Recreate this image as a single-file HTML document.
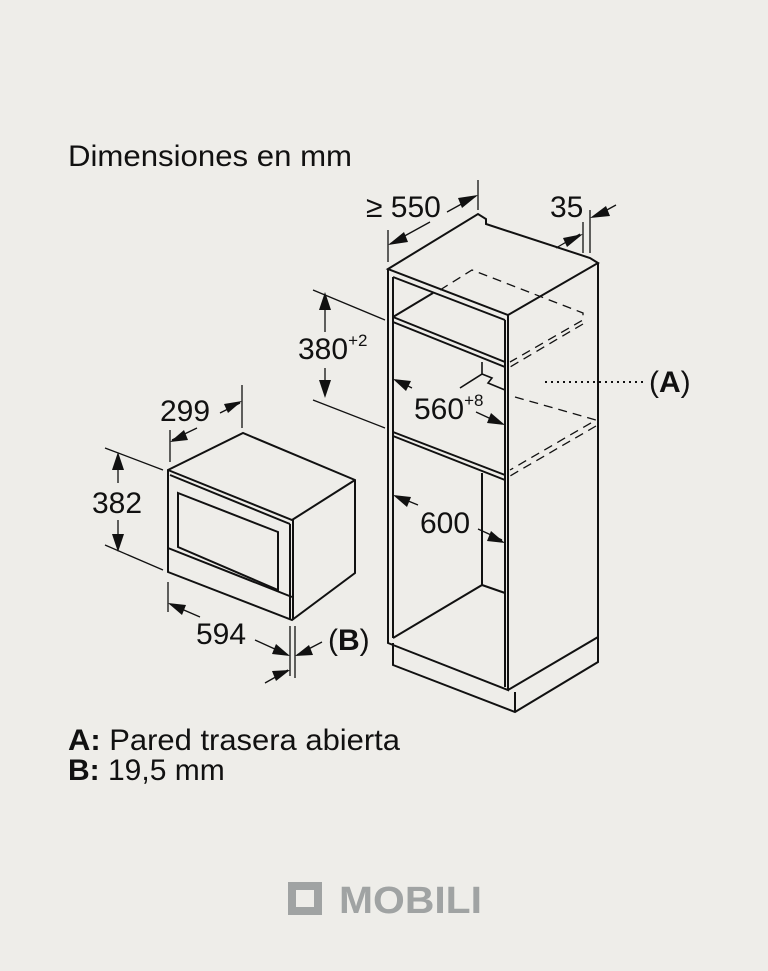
<!DOCTYPE html>
<html><head><meta charset="utf-8"><style>
html,body{margin:0;padding:0;background:#eeede9;}
svg{display:block}
text{font-family:"Liberation Sans",sans-serif;fill:#111}
</style></head><body>
<svg width="768" height="971" viewBox="0 0 768 971" xmlns="http://www.w3.org/2000/svg">
<rect width="768" height="971" fill="#eeede9"/>
<text x="68" y="166" font-size="30" textLength="284" lengthAdjust="spacingAndGlyphs">Dimensiones en mm</text>
<text x="68" y="750" font-size="30" textLength="332" lengthAdjust="spacingAndGlyphs"><tspan font-weight="bold">A:</tspan> Pared trasera abierta</text>
<text x="68" y="780" font-size="30"><tspan font-weight="bold">B:</tspan> 19,5 mm</text>

<g stroke="#111" stroke-width="2" fill="none" stroke-linejoin="miter">
<path d="M388,269 L478,214 L486,219 L486,224 L590,258 L598,263 L508,315 Z"/>
<path d="M388,269 L388,643 L508,690 L508,315"/>
<path d="M393,277 L505,320"/>
<path d="M393,277 L393,638 M505,320 L505,687"/>
<path d="M598,263 L598,637 L508,690"/>
<path d="M393,317 L505,362 M393,322 L505,367 M393,317 L433,293"/>
<path d="M393,432 L505,475 M393,436 L505,480"/>
<path d="M482,473 L482,585 L393,638 M482,585 L505,593"/>
<path d="M393,643 L393,665 L515,712 L598,662 L598,637 M515,712 L515,692"/>
<path d="M482,362 L482,374 L460,388 M482,374 L492,378 L488,383 L505,390" stroke-width="1.6"/>
</g>
<g stroke="#111" stroke-width="1.3" fill="none" stroke-dasharray="9,6">
<path d="M440,290 L472,270 L583,313 L583,320 L510,362"/>
<path d="M583,324 L510,367"/>
<path d="M515,397 L596,420 L510,470"/>
<path d="M596,426 L510,476"/>
</g>
<line x1="545" y1="382" x2="645" y2="382" stroke="#111" stroke-width="2" stroke-dasharray="2,4"/>
<text x="649" y="392" font-size="30">(<tspan font-weight="bold">A</tspan>)</text>

<g stroke="#111" stroke-width="2" fill="none">
<path d="M168,470 L243,433 L355,480 L355,573 L292,620 L168,572 Z"/>
<path d="M168,470 L292,520 L355,480"/>
<path d="M170,475 L290,524 M290,524 L290,620 M293,520 L293,620"/>
<path d="M178,493 L278,532 L278,590 L178,547 Z"/>
<path d="M168,548 L292,597"/>
</g>

<g stroke="#111" stroke-width="1.3" fill="none">
<path d="M388,230 L388,262 M478,180 L478,210 M390,244 L430,222 M447,212 L476,196"/>
<path d="M583,222 L583,253 M590,210 L590,253 M556,248 L580,234 M594,217 L616,205"/>
<path d="M313,290 L385,320 M313,400 L385,428 M325,300 L325,332 M325,368 L325,395"/>
<path d="M396,380 L412,388 M476,412 L502,424"/>
<path d="M396,496 L418,505 M478,529 L502,540"/>
<path d="M170,430 L170,462 M242,385 L242,428 M172,440 L197,428 M220,413 L240,403"/>
<path d="M105,448 L163,470 M105,545 L163,570 M118,458 L118,483 M118,520 L118,546"/>
<path d="M168,582 L168,612 M290,626 L290,676 M295,626 L295,678 M170,604 L200,617 M255,640 L288,655"/>
<path d="M297,655 L322,642 M265,683 L288,670"/>
</g>
<g fill="#111">
<polygon points="388,245 404,232 408,242"/>
<polygon points="478,195 462,208 458,198"/>
<polygon points="583,234 567,247 563,238"/>
<polygon points="590,218 606,206 610,216"/>
<polygon points="325,292 319,310 331,310"/>
<polygon points="325,398 319,380 331,380"/>
<polygon points="393,379 411,381 406,391"/>
<polygon points="505,425 487,423 491,413"/>
<polygon points="393,495 411,497 407,507"/>
<polygon points="505,543 487,541 491,531"/>
<polygon points="170,442 184,430 188,440"/>
<polygon points="242,401 228,413 224,404"/>
<polygon points="118,452 112,470 124,470"/>
<polygon points="118,552 112,534 124,534"/>
<polygon points="168,603 186,605 182,615"/>
<polygon points="290,656 272,654 276,644"/>
<polygon points="295,656 309,645 313,655"/>
<polygon points="290,670 276,681 272,671"/>
</g>
<text x="366" y="217" font-size="30">≥ 550</text>
<text x="550" y="217" font-size="30">35</text>
<text x="298" y="359" font-size="30">380<tspan font-size="17" dy="-13">+2</tspan></text>
<text x="414" y="419" font-size="30">560<tspan font-size="17" dy="-13">+8</tspan></text>
<text x="420" y="533" font-size="30">600</text>
<text x="160" y="421" font-size="30">299</text>
<text x="92" y="513" font-size="30">382</text>
<text x="196" y="644" font-size="30">594</text>
<text x="328" y="650" font-size="30">(<tspan font-weight="bold">B</tspan>)</text>

<rect x="292" y="886" width="26" height="25" fill="none" stroke="#a0a3a3" stroke-width="8"/>
<text x="339" y="913" font-size="38" font-weight="bold" style="fill:#a0a3a3" textLength="143" lengthAdjust="spacingAndGlyphs">MOBILI</text>
</svg>
</body></html>
